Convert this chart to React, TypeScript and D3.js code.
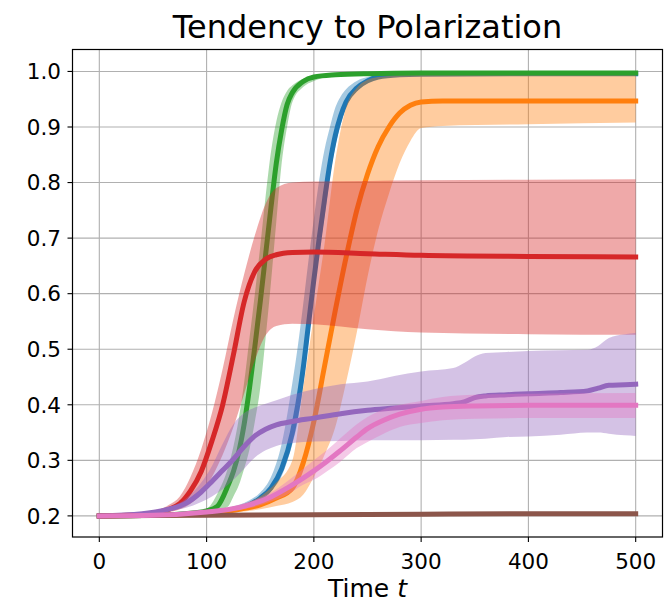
import React from "react";
import * as d3 from "d3";

// Polarization tendency over time: mean curves with shaded spread bands.

const xTickValues = [0, 100, 200, 300, 400, 500];
const yTickValues = [0.2, 0.3, 0.4, 0.5, 0.6, 0.7, 0.8, 0.9, 1.0];

const blueT = [0, 50, 100, 120, 140, 150, 160, 170, 180, 185, 190, 195, 200, 205, 210, 215, 220, 225, 230, 240, 250, 260, 280, 300, 400, 500];
const blueMean = [0.2, 0.201, 0.205, 0.21, 0.22, 0.232, 0.25, 0.285, 0.35, 0.4, 0.465, 0.545, 0.625, 0.7, 0.77, 0.835, 0.885, 0.92, 0.945, 0.97, 0.983, 0.99, 0.994, 0.995, 0.996, 0.996];
const blueHi = [0.2, 0.202, 0.207, 0.214, 0.228, 0.242, 0.27, 0.33, 0.44, 0.505, 0.58, 0.66, 0.735, 0.805, 0.86, 0.9, 0.935, 0.955, 0.968, 0.983, 0.99, 0.993, 0.995, 0.996, 0.997, 0.997];
const blueLo = [0.2, 0.2, 0.204, 0.209, 0.218, 0.228, 0.245, 0.272, 0.33, 0.37, 0.435, 0.515, 0.6, 0.675, 0.74, 0.81, 0.865, 0.905, 0.935, 0.965, 0.98, 0.988, 0.993, 0.994, 0.995, 0.995];

const orangeT = [0, 50, 100, 125, 150, 165, 180, 190, 200, 210, 220, 230, 240, 250, 260, 270, 280, 290, 300, 320, 400, 500];
const orangeMean = [0.2, 0.201, 0.204, 0.21, 0.22, 0.232, 0.25, 0.295, 0.37, 0.47, 0.57, 0.665, 0.75, 0.815, 0.865, 0.9, 0.925, 0.939, 0.945, 0.947, 0.947, 0.947];
const orangeHi = [0.2, 0.202, 0.206, 0.215, 0.235, 0.26, 0.3, 0.43, 0.56, 0.69, 0.84, 0.935, 0.97, 0.985, 0.99, 0.992, 0.994, 0.995, 0.995, 0.995, 0.995, 0.995];
const orangeLo = [0.2, 0.2, 0.202, 0.206, 0.212, 0.218, 0.225, 0.238, 0.27, 0.31, 0.36, 0.44, 0.53, 0.63, 0.715, 0.78, 0.835, 0.875, 0.898, 0.902, 0.905, 0.908];

const greenT = [0, 50, 80, 100, 110, 120, 125, 130, 135, 140, 145, 150, 155, 160, 165, 170, 175, 180, 190, 200, 220, 250, 300, 500];
const greenMean = [0.2, 0.201, 0.204, 0.209, 0.217, 0.255, 0.28, 0.315, 0.365, 0.43, 0.505, 0.585, 0.67, 0.755, 0.835, 0.895, 0.94, 0.962, 0.982, 0.99, 0.994, 0.996, 0.997, 0.997];
const greenHi = [0.2, 0.202, 0.206, 0.213, 0.24, 0.287, 0.325, 0.375, 0.44, 0.52, 0.6, 0.685, 0.775, 0.855, 0.91, 0.945, 0.965, 0.975, 0.987, 0.992, 0.995, 0.997, 0.998, 0.998];
const greenLo = [0.2, 0.2, 0.203, 0.206, 0.209, 0.217, 0.235, 0.255, 0.285, 0.32, 0.37, 0.43, 0.52, 0.62, 0.73, 0.835, 0.9, 0.945, 0.972, 0.983, 0.992, 0.995, 0.996, 0.996];

const redT = [0, 25, 50, 65, 75, 85, 95, 105, 115, 125, 135, 145, 155, 165, 180, 200, 250, 300, 400, 500];
const redMean = [0.2, 0.201, 0.205, 0.212, 0.222, 0.245, 0.28, 0.335, 0.4, 0.49, 0.585, 0.64, 0.662, 0.67, 0.674, 0.675, 0.672, 0.669, 0.667, 0.666];
const redHi = [0.2, 0.202, 0.208, 0.22, 0.235, 0.27, 0.32, 0.385, 0.465, 0.555, 0.635, 0.705, 0.762, 0.79, 0.8, 0.802, 0.803, 0.804, 0.805, 0.806];
const redLo = [0.2, 0.2, 0.203, 0.207, 0.212, 0.222, 0.24, 0.27, 0.31, 0.36, 0.42, 0.48, 0.525, 0.542, 0.546, 0.545, 0.536, 0.53, 0.527, 0.526];

const purpleT = [0, 40, 60, 80, 95, 105, 115, 125, 135, 145, 155, 165, 180, 200, 225, 250, 275, 300, 330, 340, 350, 360, 380, 400, 430, 455, 465, 475, 490, 500];
const purpleMean = [0.2, 0.204, 0.21, 0.222, 0.243, 0.262, 0.282, 0.302, 0.325, 0.344, 0.356, 0.364, 0.37, 0.376, 0.384, 0.39, 0.394, 0.398, 0.402, 0.405, 0.413, 0.416, 0.418, 0.42, 0.422, 0.425, 0.43, 0.435, 0.436, 0.437];
const purpleHi = [0.2, 0.205, 0.213, 0.23, 0.26, 0.29, 0.33, 0.365, 0.385, 0.395, 0.402, 0.408, 0.418, 0.428, 0.437, 0.442, 0.452, 0.46, 0.466, 0.475, 0.487, 0.493, 0.495, 0.497, 0.498, 0.499, 0.506, 0.52, 0.527, 0.529];
const purpleLo = [0.2, 0.203, 0.207, 0.214, 0.225, 0.235, 0.248, 0.265, 0.285, 0.305, 0.318, 0.326, 0.331, 0.334, 0.335, 0.336, 0.336, 0.336, 0.337, 0.337, 0.338, 0.339, 0.342, 0.343, 0.346, 0.35, 0.35, 0.348, 0.345, 0.344];

const brownT = [0, 100, 200, 300, 400, 500];
const brownMean = [0.2, 0.201, 0.202, 0.203, 0.204, 0.204];
const brownHi = [0.2, 0.202, 0.203, 0.204, 0.205, 0.205];
const brownLo = [0.2, 0.2, 0.201, 0.202, 0.203, 0.203];

const pinkT = [0, 50, 100, 125, 140, 160, 175, 190, 200, 212, 225, 240, 250, 265, 280, 300, 320, 350, 400, 500];
const pinkMean = [0.2, 0.201, 0.207, 0.213, 0.22, 0.234, 0.25, 0.268, 0.281, 0.298, 0.318, 0.342, 0.357, 0.372, 0.383, 0.392, 0.396, 0.398, 0.399, 0.399];
const pinkHi = [0.2, 0.202, 0.21, 0.218, 0.226, 0.242, 0.262, 0.285, 0.3, 0.318, 0.34, 0.365, 0.378, 0.392, 0.4, 0.407, 0.414, 0.418, 0.42, 0.421];
const pinkLo = [0.2, 0.2, 0.204, 0.209, 0.214, 0.226, 0.238, 0.256, 0.265, 0.28, 0.298, 0.322, 0.333, 0.348, 0.36, 0.367, 0.372, 0.375, 0.376, 0.376];

type Row = { t: number; mean: number; lo: number; hi: number };
type Series = { key: string; color: string; rows: Row[] };

const makeRows = (t: number[], mean: number[], lo: number[], hi: number[]): Row[] =>
  t.map((v, i) => ({ t: v, mean: mean[i], lo: lo[i], hi: hi[i] }));

const series: Series[] = [
  { key: "blue", color: "#1f77b4", rows: makeRows(blueT, blueMean, blueLo, blueHi) },
  { key: "orange", color: "#ff7f0e", rows: makeRows(orangeT, orangeMean, orangeLo, orangeHi) },
  { key: "green", color: "#2ca02c", rows: makeRows(greenT, greenMean, greenLo, greenHi) },
  { key: "red", color: "#d62728", rows: makeRows(redT, redMean, redLo, redHi) },
  { key: "purple", color: "#9467bd", rows: makeRows(purpleT, purpleMean, purpleLo, purpleHi) },
  { key: "brown", color: "#8c564b", rows: makeRows(brownT, brownMean, brownLo, brownHi) },
  { key: "pink", color: "#e377c2", rows: makeRows(pinkT, pinkMean, pinkLo, pinkHi) },
];

const W = 664;
const H = 603;
const frame = { left: 72.5, right: 662.5, top: 49.5, bottom: 537 };
const FONT = "'DejaVu Sans', 'Liberation Sans', sans-serif";

export default function App() {
  const x = d3.scaleLinear().domain([-25, 525]).range([frame.left, frame.right]);
  const y = d3.scaleLinear().domain([0.162, 1.0395]).range([frame.bottom, frame.top]);

  const area = d3
    .area<Row>()
    .x((d) => x(d.t))
    .y0((d) => y(d.lo))
    .y1((d) => y(d.hi))
    .curve(d3.curveMonotoneX);
  const line = d3
    .line<Row>()
    .x((d) => x(d.t))
    .y((d) => y(d.mean))
    .curve(d3.curveMonotoneX);

  const fmt = d3.format(".1f");
  const tickLen = 5;

  return (
    <svg
      width={W}
      height={H}
      style={{ position: "absolute", left: 0, top: 0, background: "#fff" }}
      fontFamily={FONT}
    >
      <rect x={0} y={0} width={W} height={H} fill="#fff" />

      {/* grid */}
      <g stroke="#b0b0b0" strokeWidth={1.1}>
        {xTickValues.map((v) => (
          <line key={"gx" + v} x1={x(v)} x2={x(v)} y1={frame.top} y2={frame.bottom} />
        ))}
        {yTickValues.map((v) => (
          <line key={"gy" + v} x1={frame.left} x2={frame.right} y1={y(v)} y2={y(v)} />
        ))}
      </g>

      {/* bands and mean lines */}
      {series.map((s) => (
        <g key={s.key}>
          <path d={area(s.rows) || ""} fill={s.color} fillOpacity={0.4} stroke="none" />
          <path
            d={line(s.rows) || ""}
            fill="none"
            stroke={s.color}
            strokeWidth={5}
            strokeLinecap="square"
            strokeLinejoin="round"
          />
        </g>
      ))}

      {/* frame */}
      <rect
        x={frame.left}
        y={frame.top}
        width={frame.right - frame.left}
        height={frame.bottom - frame.top}
        fill="none"
        stroke="#000"
        strokeWidth={1.2}
      />

      {/* x axis */}
      <g>
        {xTickValues.map((v) => (
          <g key={"xt" + v}>
            <line x1={x(v)} x2={x(v)} y1={frame.bottom} y2={frame.bottom + tickLen} stroke="#000" strokeWidth={1.1} />
            <text x={x(v)} y={569} textAnchor="middle" fontSize={21.5} fill="#000">
              {v}
            </text>
          </g>
        ))}
      </g>

      {/* y axis */}
      <g>
        {yTickValues.map((v) => (
          <g key={"yt" + v}>
            <line x1={frame.left - tickLen} x2={frame.left} y1={y(v)} y2={y(v)} stroke="#000" strokeWidth={1.1} />
            <text x={61} y={y(v)} dy="0.36em" textAnchor="end" fontSize={21.5} fill="#000">
              {fmt(v)}
            </text>
          </g>
        ))}
      </g>

      {/* axis label */}
      <text x={(frame.left + frame.right) / 2} y={597} textAnchor="middle" fontSize={25} fill="#000">
        Time <tspan fontStyle="italic">t</tspan>
      </text>

      {/* title */}
      <text x={(frame.left + frame.right) / 2} y={37.5} textAnchor="middle" fontSize={32} fill="#000">
        Tendency to Polarization
      </text>
    </svg>
  );
}
